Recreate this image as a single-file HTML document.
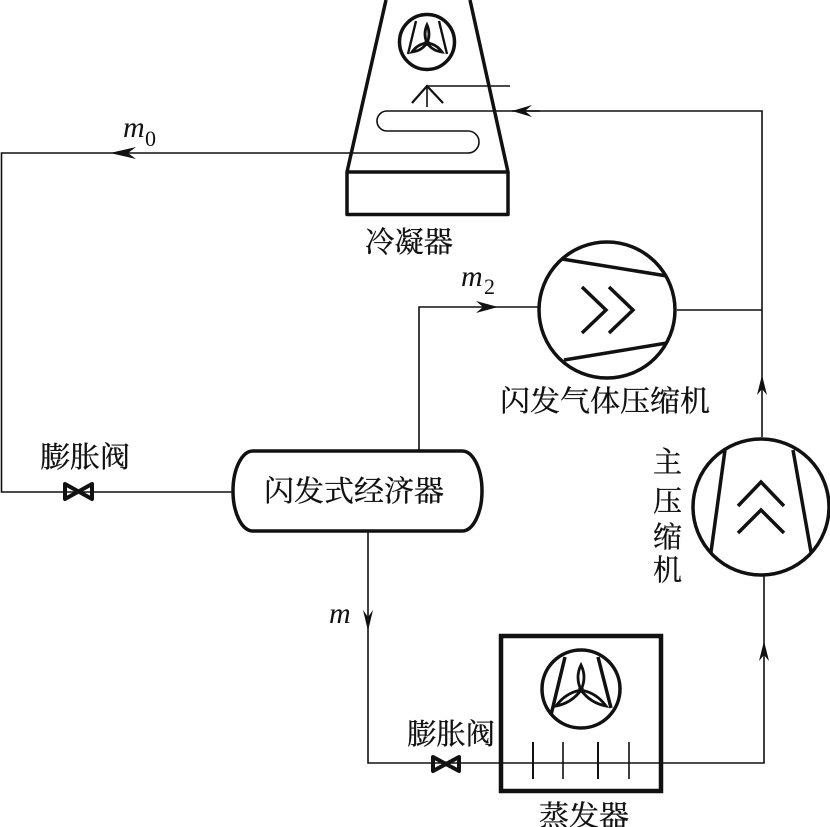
<!DOCTYPE html>
<html><head><meta charset="utf-8"><style>
html,body{margin:0;padding:0;background:#fff}
svg{display:block}
text{font-family:"Liberation Serif","Noto Serif CJK SC",serif;fill:#111}
.cn{font-size:29px;stroke:#111;stroke-width:.35px}
.it{font-style:italic;font-size:30px}
.sub{font-size:22px}
</style></head><body>
<svg width="830" height="827" viewBox="0 0 830 827" xmlns="http://www.w3.org/2000/svg">
<rect width="830" height="827" fill="#fff"/>
<g fill="none" stroke="#111" stroke-width="1.6">
<path d="M540 111H387a10 10 0 0 0 0 20H468a11 11 0 0 1 0 22H1.5V492H233"/>
<path d="M512 111H762V437"/>
<path d="M427 107V86H510"/>
<path d="M419 451V307H540"/>
<path d="M677 310H762"/>
<path d="M368 532V763H500"/>
<path d="M500 763H764V575"/>
<path d="M533 742V779M598 742V779" stroke-width="2"/>
<path d="M563 742V779M629 742V779"/>
</g>
<g fill="none" stroke="#111" stroke-width="3.5">
<path d="M386 0L347 172V214.500H508V172L470 0" stroke-linejoin="round"/>
<path d="M347 172H508"/>
<circle cx="427" cy="42" r="27.5"/>
<path d="M416 21L408 54M439 21L447 54" stroke-width="2.4"/>
<path d="M412 103L427 86L443 103" stroke-width="2.2"/>
<path d="M253 451H462A20 40 0 0 1 462 531H253A20 40 0 0 1 253 451Z"/>
<rect x="501" y="636" width="160" height="155" stroke-width="4.500"/>
<circle cx="581" cy="689" r="39"/>
<path d="M565 657L551 715M598 657L611 708"/>
<circle cx="607" cy="310" r="68"/>
<path d="M562 259L667 276M564 360L667 343"/>
<path d="M582 287L606 310L582 333M609 287L633 310L609 333"/>
<circle cx="761" cy="507" r="68"/>
<path d="M725 450L711 552M793 450L811 552"/>
<path d="M738 506L761 482L784 506M738 533L761 510L784 533"/>
<path d="M65 484L92 499V484L65 499Z" stroke-width="4" stroke-linejoin="round"/>
<path d="M433 757L459 771V757L433 771Z" stroke-width="4" stroke-linejoin="round"/>
<g stroke-width="2.8">
<path d="M427 43Q423 34 427 25Q431 34 427 43Z"/>
<path d="M427 43Q421.500 50.900 412 52Q417.500 44.100 427 43Z"/>
<path d="M427 43Q432.500 50.900 442 52Q436.500 44.100 427 43Z"/>
<path d="M581 690Q575 677 581 665Q587 677 581 690Z"/>
<path d="M581 690Q571.700 703 556 706Q565.300 693 581 690Z"/>
<path d="M581 690Q590.300 703 606 706Q596.700 693 581 690Z"/>
</g>
</g>
<g fill="#111" stroke="none">
<path d="M512 111L532 105L525 111L532 117Z"/>
<path d="M110 153L136 147L128 153L136 159Z"/>
<path d="M498 307L476 301L483 307L476 313Z"/>
<path d="M368 631L363 610L368 617L373 610Z"/>
<path d="M762 375L757 395L762 389L767 395Z"/>
<path d="M764 641L759 661L764 655L769 661Z"/>
</g>
<text class="cn" x="365" y="252" textLength="88" lengthAdjust="spacingAndGlyphs">冷凝器</text>
<text class="cn" x="500" y="411" textLength="210" lengthAdjust="spacingAndGlyphs">闪发气体压缩机</text>
<text class="cn" x="40" y="467" textLength="90" lengthAdjust="spacingAndGlyphs">膨胀阀</text>
<text class="cn" x="264" y="501" textLength="180" lengthAdjust="spacingAndGlyphs">闪发式经济器</text>
<text class="cn" x="407" y="744" textLength="88" lengthAdjust="spacingAndGlyphs">膨胀阀</text>
<text class="cn" x="539" y="826" textLength="90" lengthAdjust="spacingAndGlyphs">蒸发器</text>
<text class="cn" x="653" y="472">主</text>
<text class="cn" x="653" y="511">压</text>
<text class="cn" x="653" y="547">缩</text>
<text class="cn" x="653" y="580">机</text>
<text class="it" x="123" y="137">m</text><text class="sub" x="145" y="146">0</text>
<text class="it" x="461" y="286">m</text><text class="sub" x="484" y="294">2</text>
<text class="it" x="329" y="623">m</text>
</svg>
</body></html>
